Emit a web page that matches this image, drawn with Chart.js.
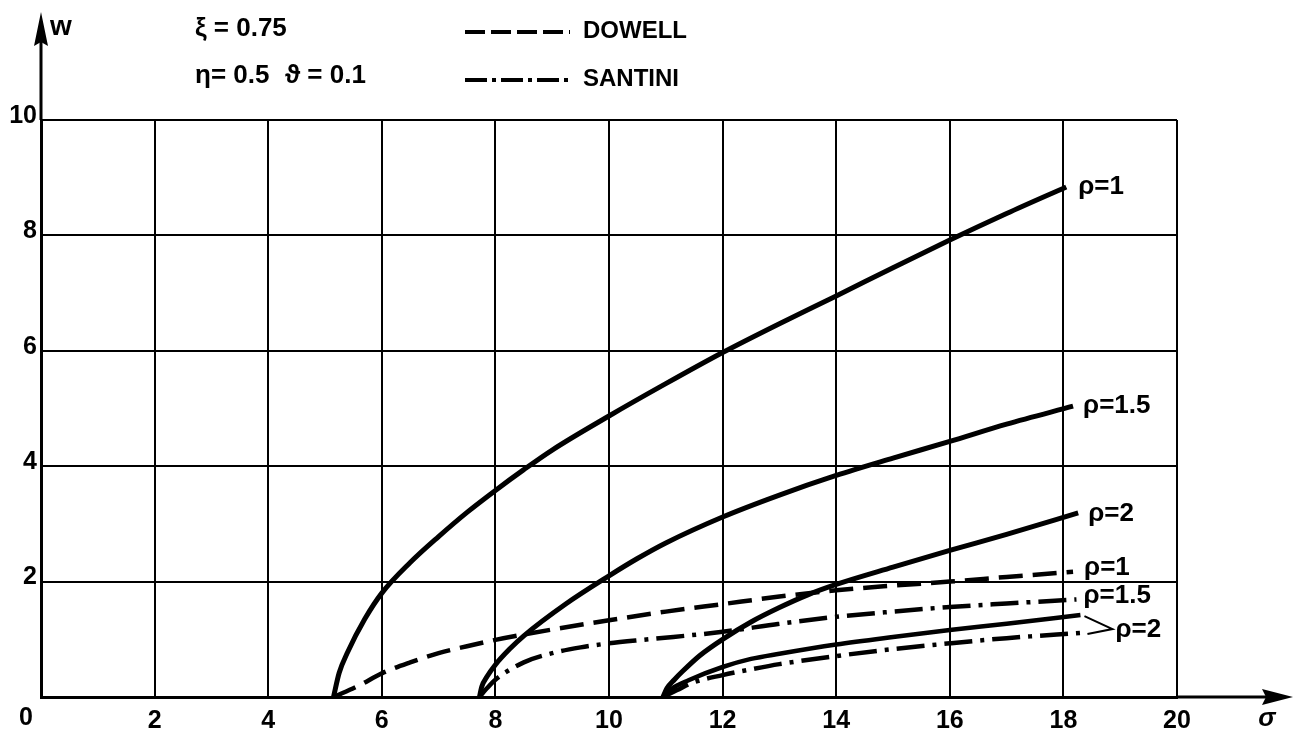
<!DOCTYPE html>
<html>
<head>
<meta charset="utf-8">
<script src="https://cdn.jsdelivr.net/npm/chart.js@4.4.1/dist/chart.umd.min.js"></script>
<style>
  body { margin: 0; background: #fff; }
  canvas { display: block; }
</style>
</head>
<body>
<canvas id="chart" width="1297" height="736"></canvas>
<script>
//------------- DATA -----------------------------------

const xTicks = [0, 2, 4, 6, 8, 10, 12, 14, 16, 18, 20];
const yTicks = [0, 2, 4, 6, 8, 10];

// solid curves
const sigma1 = [5.15, 5.25, 5.4, 5.7, 6, 6.5, 7, 7.5, 8, 8.5, 9, 10, 11, 12, 13, 14, 15, 16, 17, 18.05];
const w1     = [0, 0.42, 0.78, 1.35, 1.8, 2.33, 2.78, 3.2, 3.58, 3.94, 4.28, 4.87, 5.43, 5.97, 6.47, 6.95, 7.44, 7.92, 8.38, 8.84];

const sigma15 = [7.72, 7.76, 7.85, 8.0, 8.25, 8.5, 9.25, 10, 10.5, 11, 12, 13, 14, 15, 16, 17, 18.17];
const w15     = [0, 0.18, 0.35, 0.56, 0.83, 1.06, 1.62, 2.1, 2.4, 2.67, 3.12, 3.5, 3.84, 4.14, 4.43, 4.73, 5.04];

const sigma2 = [10.95, 11.02, 11.15, 11.3, 11.6, 12, 12.5, 13, 13.5, 14, 15, 16, 17, 18.26];
const w2     = [0, 0.15, 0.3, 0.45, 0.72, 1.0, 1.3, 1.55, 1.77, 1.95, 2.25, 2.54, 2.82, 3.19];

// DOWELL (dashed)
const sigmaD1 = [5.15, 5.6, 6, 6.5, 7, 7.5, 8, 9, 10, 11, 12, 13, 14, 15, 16, 17, 18.17];
const wD1     = [0, 0.2, 0.41, 0.6, 0.76, 0.88, 0.99, 1.17, 1.33, 1.48, 1.61, 1.74, 1.85, 1.93, 2.0, 2.08, 2.17];

// lower solid rho=2
const sigmaD2 = [10.95, 11.1, 11.4, 12, 12.5, 13, 14, 15, 16, 17, 18.3];
const wD2     = [0, 0.14, 0.29, 0.52, 0.66, 0.75, 0.91, 1.04, 1.16, 1.27, 1.42];

// SANTINI (dash-dot)
const sigmaS15 = [7.72, 7.85, 8.0, 8.5, 9, 9.5, 10, 10.7, 12, 13, 14, 15, 16, 17, 18.23];
const wS15     = [0, 0.15, 0.3, 0.6, 0.76, 0.86, 0.93, 1.0, 1.13, 1.27, 1.39, 1.48, 1.56, 1.62, 1.69];

const sigmaS2 = [10.95, 11.2, 11.45, 12, 12.5, 13, 14, 15, 16, 17, 18.3];
const wS2     = [0, 0.12, 0.24, 0.38, 0.48, 0.57, 0.71, 0.83, 0.93, 1.02, 1.11];

const FONT = '"Liberation Sans", Arial, sans-serif';
const DASH = [24, 10];
const DASHDOT = [28, 8, 4, 8];

function pts(xs, ys) {
  return xs.map((x, i) => ({x: x, y: ys[i]}));
}

function curve(label, xs, ys, dash, width) {
  return {
    label: label,
    data: pts(xs, ys),
    showLine: true,
    borderColor: '#000',
    borderWidth: width,
    borderDash: dash,
    pointRadius: 0,
    cubicInterpolationMode: 'monotone',
    fill: false
  };
}

const datasets = [
  curve('rho=1', sigma1, w1, [], 5),
  curve('rho=1.5', sigma15, w15, [], 5),
  curve('rho=2', sigma2, w2, [], 5),
  curve('DOWELL rho=1', sigmaD1, wD1, DASH, 4.5),
  curve('rho=2 lower', sigmaD2, wD2, [], 4.5),
  curve('SANTINI rho=1.5', sigmaS15, wS15, DASHDOT, 4.5),
  curve('SANTINI rho=2', sigmaS2, wS2, DASHDOT, 4.5)
];

// curve end labels: dataset index, text, pixel offset
const endLabels = [
  [0, 'ρ=1', 12, 0],
  [1, 'ρ=1.5', 10, 0],
  [2, 'ρ=2', 10, 1],
  [3, 'ρ=1', 11, -4],
  [5, 'ρ=1.5', 7, -4]
];


//------------- DECORATION PLUGIN ----------------------

const decor = {
  id: 'decor',
  afterDraw(chart) {
    const c = chart.ctx;
    const a = chart.chartArea;
    const xs = chart.scales.x, ys = chart.scales.y;
    c.save();
    c.fillStyle = '#000';
    c.strokeStyle = '#000';

    // axis arrows
    c.lineWidth = 3;
    c.beginPath();
    c.moveTo(a.right, a.bottom); c.lineTo(1266, a.bottom);
    c.moveTo(a.left, a.top); c.lineTo(a.left, 40);
    c.stroke();
    c.beginPath();
    c.moveTo(1293, a.bottom); c.lineTo(1262, a.bottom - 8); c.lineTo(1266, a.bottom); c.lineTo(1262, a.bottom + 8); c.closePath();
    c.fill();
    c.beginPath();
    c.moveTo(a.left, 12); c.lineTo(a.left - 7, 46); c.lineTo(a.left, 42); c.lineTo(a.left + 7, 46); c.closePath();
    c.fill();

    c.textBaseline = 'middle';
    c.textAlign = 'center';
    c.font = 'bold 25px ' + FONT;
    c.fillText('0', xs.getPixelForValue(0) - 15, 718);
    c.font = 'italic bold 26px ' + FONT;
    c.fillText('σ', 1267, 719);
    c.font = 'bold 28px ' + FONT;
    c.fillText('w', 61, 27);

    // parameters
    c.textAlign = 'left';
    c.font = 'bold 26px ' + FONT;
    c.fillText('ξ = 0.75', 195, 29);
    c.fillText('η= 0.5', 195, 76);
    c.fillText('ϑ = 0.1', 285, 76);

    // legend
    c.lineWidth = 4;
    c.setLineDash([20, 6]);
    c.beginPath(); c.moveTo(465, 32); c.lineTo(570, 32); c.stroke();
    c.setLineDash([22, 5, 4, 5]);
    c.beginPath(); c.moveTo(465, 80); c.lineTo(570, 80); c.stroke();
    c.setLineDash([]);
    c.font = 'bold 24px ' + FONT;
    c.fillText('DOWELL', 583, 31);
    c.fillText('SANTINI', 583, 79);

    // curve labels
    c.font = 'bold 26px ' + FONT;
    endLabels.forEach(([i, txt, dx, dy]) => {
      const d = chart.data.datasets[i].data;
      const p = d[d.length - 1];
      c.fillText(txt, xs.getPixelForValue(p.x) + dx, ys.getPixelForValue(p.y) + dy);
    });

    // bracket for the two rho=2 curves
    const dA = chart.data.datasets[4].data, dB = chart.data.datasets[6].data;
    const pA = dA[dA.length - 1], pB = dB[dB.length - 1];
    const ax = xs.getPixelForValue(pA.x) + 4, ay = ys.getPixelForValue(pA.y) + 1;
    const bx = xs.getPixelForValue(pB.x) + 7, by = ys.getPixelForValue(pB.y) + 1;
    const tipX = ax + 28, tipY = (ay + by) / 2 + 4;
    c.lineWidth = 2;
    c.beginPath();
    c.moveTo(ax, ay); c.lineTo(tipX, tipY); c.lineTo(bx, by);
    c.stroke();
    c.fillText('ρ=2', tipX + 3, tipY + 1);

    c.restore();
  }
};


//------------- CHART ----------------------------------

const settings = {
  responsive: false,
  devicePixelRatio: 1,
  animation: false,
  layout: { padding: { top: 120, right: 120, left: 0, bottom: 0 } },
  plugins: { legend: { display: false }, tooltip: { enabled: false } },
  scales: {
    x: {
      type: 'linear', min: 0, max: 20,
      afterBuildTicks: s => { s.ticks = xTicks.map(v => ({value: v})); },
      ticks: {
        callback: v => v === 0 ? '' : v,
        color: '#000', padding: 9,
        font: { family: FONT, size: 25, weight: 'bold' }
      },
      grid: { color: '#000', lineWidth: 2, drawTicks: false },
      border: { color: '#000', width: 3 },
      afterFit: s => { s.height = 39; }
    },
    y: {
      type: 'linear', min: 0, max: 10,
      afterBuildTicks: s => { s.ticks = yTicks.map(v => ({value: v})); },
      ticks: {
        callback: v => v === 0 ? '' : v,
        color: '#000', padding: 4, labelOffset: -4,
        font: { family: FONT, size: 25, weight: 'bold' }
      },
      grid: { color: '#000', lineWidth: 2, drawTicks: false },
      border: { color: '#000', width: 3 },
      afterFit: s => { s.width = 41; }
    }
  }
};

const chart = new Chart(document.getElementById('chart'), {
  type: 'scatter',
  data: { datasets: datasets },
  options: settings,
  plugins: [decor]
});
</script>
</body>
</html>
